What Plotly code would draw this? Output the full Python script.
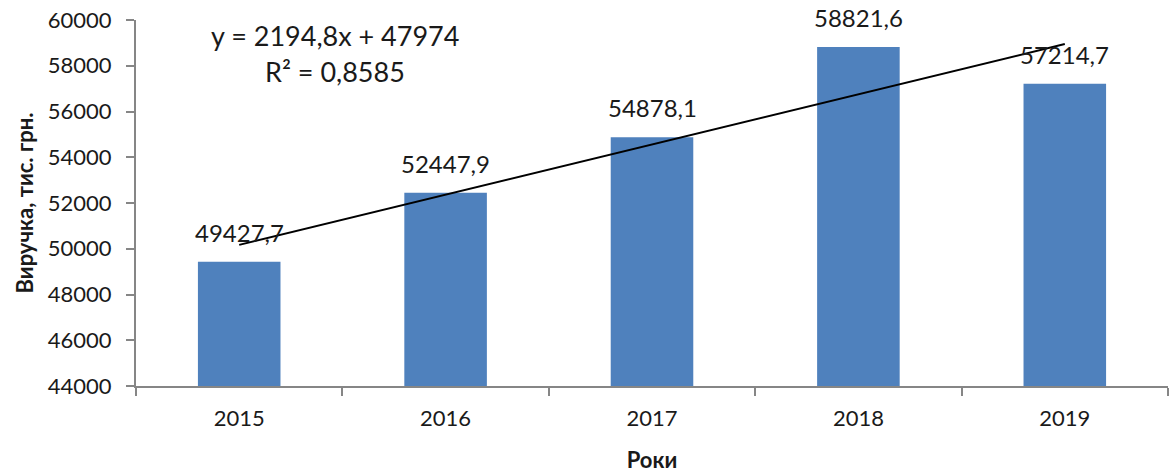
import plotly.graph_objects as go

years = ["2015", "2016", "2017", "2018", "2019"]
revenue = [49427.7, 52447.9, 54878.1, 58821.6, 57214.7]
labels = ["49427,7", "52447,9", "54878,1", "58821,6", "57214,7"]
trend_slope = 2194.8
trend_intercept = 47974
eq_text = "y = 2194,8x + 47974"
r2_text = "R² = 0,8585"
y_ticks = [44000, 46000, 48000, 50000, 52000, 54000, 56000, 58000, 60000]

FONT = "Lato, Carlito, Calibri, sans-serif"
trend_x = [years[0], years[-1]]
trend_y = [trend_slope * 1 + trend_intercept, trend_slope * len(years) + trend_intercept]

fig = go.Figure()
fig.add_trace(go.Bar(x=years, y=revenue, marker=dict(color="#4F81BD", line=dict(width=0)),
                     showlegend=False, hoverinfo="skip"))
fig.add_trace(go.Scatter(x=trend_x, y=trend_y, mode="lines",
                         line=dict(color="black", width=2), showlegend=False, cliponaxis=False))

for i, (v, t) in enumerate(zip(revenue, labels)):
    fig.add_annotation(x=i, y=v, xref="x", yref="y", text=t, showarrow=False,
                       yanchor="bottom", yshift=13,
                       font=dict(family=FONT, size=24, color="#1a1a1a"))

fig.add_annotation(xref="paper", yref="paper", x=0.193, y=1.0 - (35 - 20) / 366, text=eq_text,
                   showarrow=False, xanchor="center", yanchor="middle",
                   font=dict(family=FONT, size=27, color="#1a1a1a"))
fig.add_annotation(xref="paper", yref="paper", x=0.193, y=1.0 - (71 - 20) / 366, text=r2_text,
                   showarrow=False, xanchor="center", yanchor="middle",
                   font=dict(family=FONT, size=27, color="#1a1a1a"))

fig.update_layout(
    width=1171, height=473,
    margin=dict(l=136, r=3, t=20, b=87),
    paper_bgcolor="white", plot_bgcolor="white",
    bargap=0.6,
    font=dict(family=FONT, color="#1a1a1a"),
    xaxis=dict(type="category", range=[-0.5, 4.5], showline=True, linecolor="#868686", linewidth=2,
               ticks="outside", ticklen=8, tickcolor="#868686", tickwidth=2, tickson="boundaries",
               showgrid=False, zeroline=False, ticklabelstandoff=12,
               tickfont=dict(family=FONT, size=22, color="#1a1a1a"),
               title=dict(text="<b>Роки</b>", font=dict(family=FONT, size=22, color="#1a1a1a"),
                          standoff=22)),
    yaxis=dict(range=[44000, 60000], tickvals=y_ticks, ticktext=[str(v) for v in y_ticks],
               showline=True, linecolor="#868686", linewidth=2,
               ticks="outside", ticklen=8, tickcolor="#868686", tickwidth=2,
               showgrid=False, zeroline=False, ticklabelstandoff=10,
               tickfont=dict(family=FONT, size=22, color="#1a1a1a"),
               title=dict(text="<b>Виручка, тис. грн.</b>",
                          font=dict(family=FONT, size=22, color="#1a1a1a"), standoff=8)),
)

fig.write_html("out.html")
